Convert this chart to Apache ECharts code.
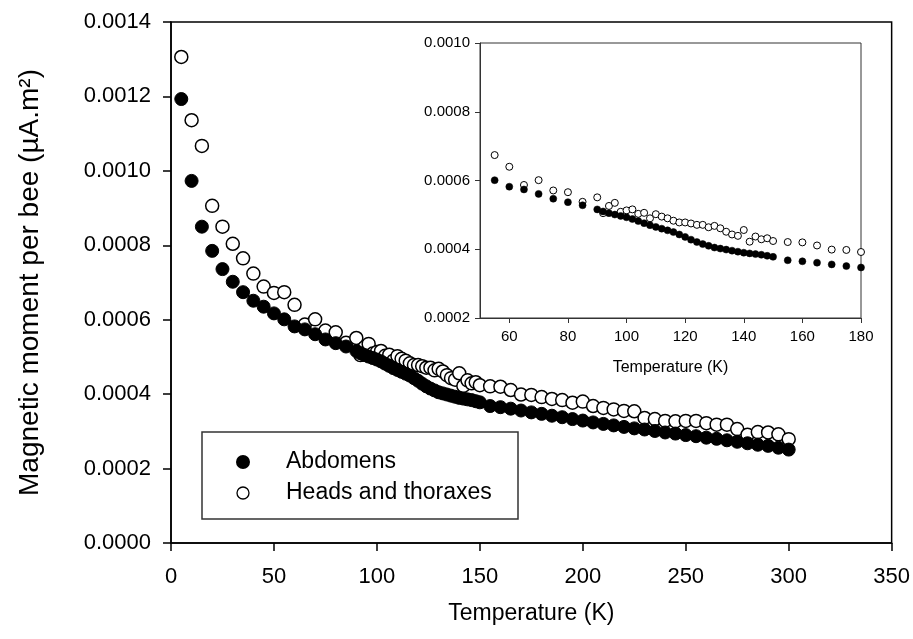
<!DOCTYPE html>
<html>
<head>
<meta charset="utf-8">
<script src="https://cdn.jsdelivr.net/npm/echarts@6/dist/echarts.min.js"></script>
<style>html,body{margin:0;padding:0;background:#fff}#c{width:913px;height:639px}</style>
</head>
<body>
<div id="c"></div>
<script>
// Temperatures (K)
var temps = [5,10,15,20,25,30,35,40,45,50,55,60,65,70,75,80,85,90,
  92,94,96,98,100,102,104,106,108,110,112,114,116,118,120,122,124,126,128,130,132,134,136,138,140,142,144,146,148,150,
  155,160,165,170,175,180,185,190,195,200,205,210,215,220,225,230,235,240,245,250,255,260,265,270,275,280,285,290,295,300];
// Abdomens (filled)
var abdomens = [0.001193,0.000973,0.000850,0.000785,0.000736,0.000702,0.000674,0.000651,0.000635,0.000617,0.000601,0.000582,0.000574,0.000561,0.000547,0.000537,0.000528,0.000516,
  0.000510,0.000505,0.000501,0.000497,0.000493,0.000488,0.000482,0.000476,0.000470,0.000465,0.000460,0.000455,0.000450,0.000443,0.000436,0.000428,0.000421,0.000415,0.000410,0.000405,0.000402,0.000399,0.000396,0.000393,0.000390,0.000388,0.000386,0.000384,0.000381,0.000378,
  0.000368,0.000365,0.000361,0.000356,0.000351,0.000347,0.000342,0.000338,0.000333,0.000329,0.000324,0.000320,0.000316,0.000312,0.000308,0.000305,0.000301,0.000297,0.000294,0.000290,0.000287,0.000283,0.000280,0.000276,0.000272,0.000268,0.000264,0.000261,0.000256,0.000251];
// Heads and thoraxes (open)
var headsThoraxes = [0.001306,0.001136,0.001067,0.000906,0.000850,0.000804,0.000765,0.000724,0.000689,0.000672,0.000674,0.000640,0.000587,0.000601,0.000571,0.000566,0.000538,0.000551,
  0.000505,0.000526,0.000535,0.000509,0.000513,0.000516,0.000503,0.000506,0.000490,0.000502,0.000495,0.000490,0.000483,0.000478,0.000478,0.000475,0.000471,0.000471,0.000464,0.000468,0.000461,0.000451,0.000443,0.000439,0.000456,0.000422,0.000437,0.000429,0.000432,0.000424,
  0.000421,0.000420,0.000411,0.000399,0.000398,0.000392,0.000387,0.000384,0.000377,0.000380,0.000368,0.000363,0.000359,0.000355,0.000354,0.000336,0.000333,0.000328,0.000327,0.000328,0.000328,0.000322,0.000318,0.000318,0.000306,0.000291,0.000298,0.000297,0.000292,0.000279];
var seriesNames = ['Abdomens', 'Heads and thoraxes'];
var insetXTicks = [60,80,100,120,140,160,180];

function pairs(vals, lo, hi) {
  var out = [];
  for (var i = 0; i < temps.length; i++) {
    if (temps[i] >= lo && temps[i] <= hi) out.push([temps[i], vals[i]]);
  }
  return out;
}
var FONT = 'Liberation Sans, Arial, sans-serif';
var chart = echarts.init(document.getElementById('c'), null, {renderer: 'canvas'});
var fmt4 = function (v) { return v.toFixed(4); };
var filledStyle = {color: '#000', borderColor: '#000', borderWidth: 1, opacity: 1};
var openStyle = {color: '#fff', borderColor: '#000', borderWidth: 1.5, opacity: 1};
chart.setOption({
  backgroundColor: '#fff',
  animation: false,
  grid: [
    {left: 171, top: 22, width: 721, height: 521, show: true, borderColor: '#000', borderWidth: 1.5, backgroundColor: 'transparent'},
    {left: 480, top: 43, width: 381, height: 275, show: true, borderColor: '#333', borderWidth: 1, backgroundColor: '#fff'}
  ],
  xAxis: [
    {gridIndex: 0, type: 'value', min: 0, max: 350, interval: 50,
     name: 'Temperature (K)', nameLocation: 'middle', nameGap: 59,
     nameTextStyle: {fontFamily: FONT, fontSize: 23, color: '#000'},
     axisLine: {show: true, lineStyle: {color: '#000', width: 1.5}},
     axisTick: {show: true, inside: false, length: 8, lineStyle: {color: '#000', width: 1.5}},
     axisLabel: {fontFamily: FONT, fontSize: 22, color: '#000', margin: 23},
     splitLine: {show: false}},
    {gridIndex: 1, type: 'value', min: 50, max: 180,
     name: 'Temperature (K)', nameLocation: 'middle', nameGap: 42,
     nameTextStyle: {fontFamily: FONT, fontSize: 16, color: '#000'},
     axisLine: {show: true, lineStyle: {color: '#333', width: 1}},
     axisTick: {show: true, inside: false, length: 5, customValues: insetXTicks, lineStyle: {color: '#333'}},
     axisLabel: {fontFamily: FONT, fontSize: 15, color: '#000', margin: 11, customValues: insetXTicks},
     splitLine: {show: false}}
  ],
  yAxis: [
    {gridIndex: 0, type: 'value', min: 0, max: 0.0014, interval: 0.0002,
     name: 'Magnetic moment per bee (\u00b5A.m\u00b2)', nameLocation: 'middle', nameGap: 127, nameRotate: 90,
     nameTextStyle: {fontFamily: FONT, fontSize: 28, color: '#000'},
     axisLine: {show: true, lineStyle: {color: '#000', width: 1.5}},
     axisTick: {show: true, inside: false, length: 8, lineStyle: {color: '#000', width: 1.5}},
     axisLabel: {fontFamily: FONT, fontSize: 22, color: '#000', margin: 20, formatter: fmt4},
     splitLine: {show: false}},
    {gridIndex: 1, type: 'value', min: 0.0002, max: 0.0010, interval: 0.0002,
     axisLine: {show: true, lineStyle: {color: '#333', width: 1}},
     axisTick: {show: true, inside: false, length: 5, lineStyle: {color: '#333'}},
     axisLabel: {fontFamily: FONT, fontSize: 15, color: '#000', margin: 10, formatter: fmt4},
     splitLine: {show: false}}
  ],
  legend: {
    data: [{name: seriesNames[0], itemStyle: {color: '#000', opacity: 1}}, {name: seriesNames[1], itemStyle: {color: '#fff', borderColor: '#000', borderWidth: 1.3, opacity: 1}}],
    orient: 'vertical', left: 231, top: 445, itemWidth: 12, itemHeight: 12, itemGap: 7,
    textStyle: {fontFamily: FONT, fontSize: 23, color: '#000', padding: [0, 0, 0, 32], lineHeight: 24},
    selectedMode: false
  },
  graphic: [
    {type: 'rect', shape: {x: 202, y: 432, width: 316, height: 87}, style: {fill: 'none', stroke: '#333', lineWidth: 1.5}, z: 100}
  ],
  series: [
    {name: seriesNames[1], type: 'scatter', xAxisIndex: 0, yAxisIndex: 0, symbol: 'circle', symbolSize: 13,
     itemStyle: openStyle, data: pairs(headsThoraxes, 0, 400), z: 2},
    {name: seriesNames[0], type: 'scatter', xAxisIndex: 0, yAxisIndex: 0, symbol: 'circle', symbolSize: 13,
     itemStyle: filledStyle, data: pairs(abdomens, 0, 400), z: 3},
    {name: seriesNames[1], type: 'scatter', xAxisIndex: 1, yAxisIndex: 1, symbol: 'circle', symbolSize: 7,
     itemStyle: {color: '#fff', borderColor: '#000', borderWidth: 1, opacity: 1}, data: pairs(headsThoraxes, 55, 180), z: 2},
    {name: seriesNames[0], type: 'scatter', xAxisIndex: 1, yAxisIndex: 1, symbol: 'circle', symbolSize: 7,
     itemStyle: {color: '#000', borderColor: '#000', borderWidth: 0.5, opacity: 1}, data: pairs(abdomens, 55, 180), z: 3}
  ]
});
</script>
</body>
</html>
